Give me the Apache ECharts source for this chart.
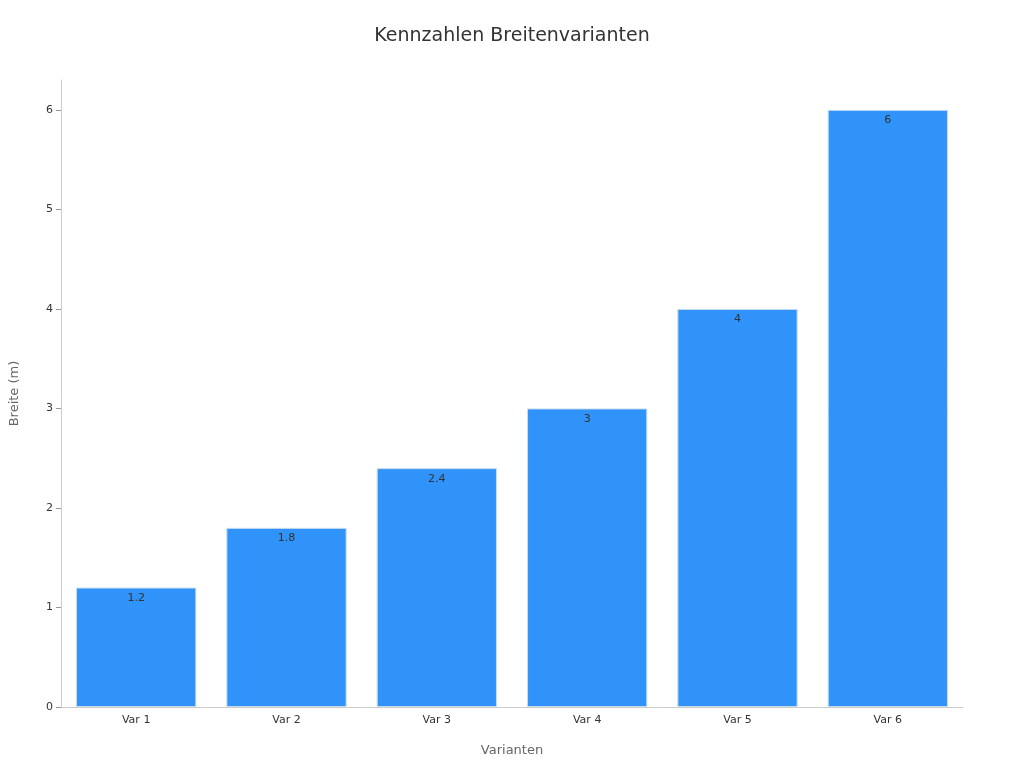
<!DOCTYPE html>
<html>
<head>
<meta charset="utf-8">
<script src="https://cdn.jsdelivr.net/npm/echarts@6/dist/echarts.min.js"></script>
<style>html,body{margin:0;padding:0;background:#fff}#chart{width:1024px;height:768px}</style>
</head>
<body>
<div id="chart"></div>
<script>
var categories = ['Var 1', 'Var 2', 'Var 3', 'Var 4', 'Var 5', 'Var 6'];
var widths = [1.2, 1.8, 2.4, 3, 4, 6];

var chart = echarts.init(document.getElementById('chart'));
chart.setOption({
    animation: false,
    textStyle: {fontFamily: 'DejaVu Sans'},
    title: {
        text: 'Kennzahlen Breitenvarianten',
        left: 'center',
        top: 22,
        textStyle: {fontSize: 19, fontWeight: 'normal', color: '#333'}
    },
    grid: {left: 60, right: 61, top: 80, bottom: 61},
    xAxis: {
        type: 'category',
        data: categories,
        name: 'Varianten',
        nameLocation: 'middle',
        nameGap: 37,
        nameTextStyle: {fontSize: 13, color: '#666'},
        axisLine: {lineStyle: {color: '#ccc'}},
        axisTick: {show: false},
        axisLabel: {color: '#333', fontSize: 11}
    },
    yAxis: {
        type: 'value',
        min: 0,
        max: 6.3,
        interval: 1,
        name: 'Breite (m)',
        nameLocation: 'middle',
        nameGap: 40,
        nameTextStyle: {fontSize: 13, color: '#666'},
        splitLine: {show: false},
        axisLine: {show: true, lineStyle: {color: '#ccc'}},
        axisTick: {show: true, lineStyle: {color: '#999'}},
        axisLabel: {
            color: '#333', fontSize: 11, showMaxLabel: false,
            formatter: function (v) { return Number.isInteger(v) ? v : ''; }
        }
    },
    series: [{
        type: 'bar',
        data: widths,
        barCategoryGap: '20%',
        itemStyle: {color: '#2f93f9', borderColor: '#c9dcef', borderWidth: 1},
        label: {show: true, position: 'insideTop', color: '#333', fontSize: 11, offset: [0, 0]}
    }]
});
</script>
</body>
</html>
